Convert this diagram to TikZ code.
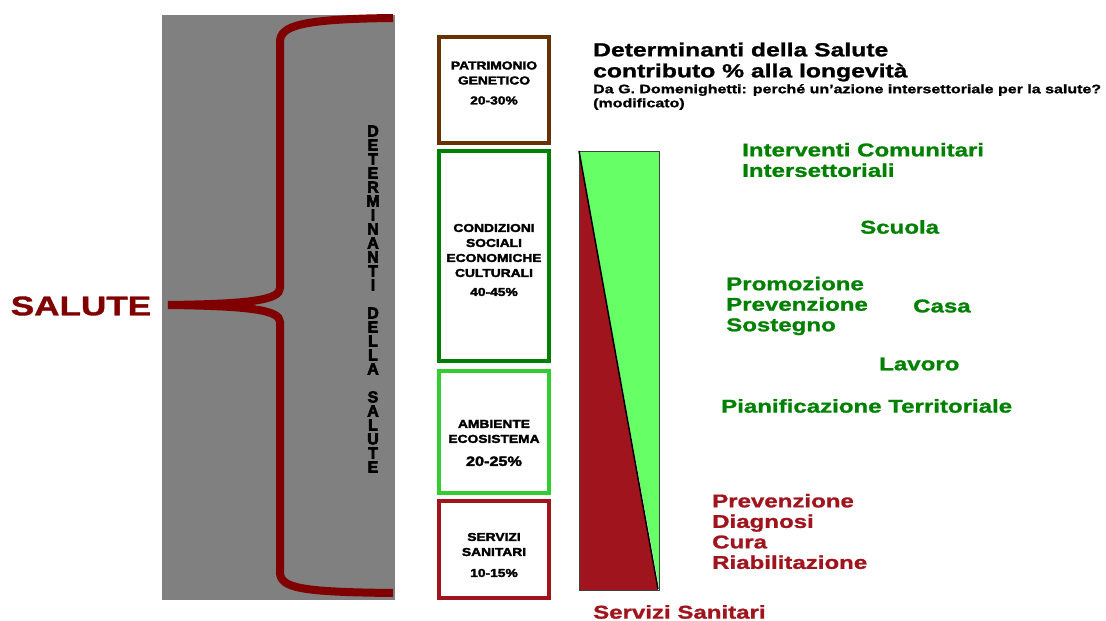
\documentclass[tikz,border=0pt]{standalone}
\usepackage{fontspec}
\setmainfont{Liberation Sans}
\newfontfamily\heavy{Liberation Sans}[FakeStretch=1.3,BoldFeatures={FakeBold=1.2}]
\newfontfamily\boxfont{Liberation Sans}[FakeStretch=1.2,BoldFeatures={FakeBold=2.5}]
\newfontfamily\narrowfont{Liberation Sans}[FakeStretch=1.0,BoldFeatures={FakeBold=3.5}]
\usetikzlibrary{calc,positioning}
\definecolor{bordeaux}{HTML}{800000}
\definecolor{grigio}{HTML}{808080}
\definecolor{marrone}{HTML}{663300}
\definecolor{verdescuro}{HTML}{008000}
\definecolor{verdechiaro}{HTML}{33CC33}
\definecolor{rosso}{HTML}{A0141E}
\definecolor{verdetri}{HTML}{66FF66}
\tikzset{
  box/.style={draw=#1, line width=4pt, fill=white, minimum width=110pt},
  boxtxt/.style={align=center, inner sep=0pt, font=\boxfont\bfseries\fontsize{11.5}{15}\selectfont},
  vlett/.style={inner sep=0pt, font=\narrowfont\bfseries\fontsize{16}{16}\selectfont},
  voce/.style={anchor=west, inner sep=0pt, align=left, text=#1,
    font=\heavy\bfseries\fontsize{18.5}{20.5}\selectfont},
}

\begin{document}
\begin{tikzpicture}[x=1pt,y=-1pt]
	\useasboundingbox (0,0) rectangle (1106,621);
	\fill[grigio] (162,15) rectangle (395,600);
	
	% graffa
	\draw[bordeaux,line width=8pt] (393,18) .. controls (300,19) and (280,26) .. (280,42)
	-- (280,288) .. controls (280,300) and (250,304) .. (168,305)
	.. controls (250,306) and (280,310) .. (280,322)
	-- (280,572) .. controls (280,588) and (300,592) .. (393,593);
	\node[inner sep=0pt,text=bordeaux,font=\heavy\bfseries\fontsize{27}{27}\selectfont] (salute) at (81,306) {SALUTE};
	
	\foreach \l [count=\i] in {D,E,T,E,R,M,I,N,A,N,T,I,{},D,E,L,L,A,{},S,A,L,U,T,E}
	\node[vlett] (v\i) at (373,{117+14*\i}) {\l};
	
	% riquadri
	\node[box=marrone, minimum height=106pt] (pat) at (494,90) {};
	\node[box=verdescuro, minimum height=210pt] (cond) at (494,256) {};
	\node[box=verdechiaro, minimum height=122pt] (amb) at (494,432) {};
	\node[box=rosso, minimum height=97pt] (serv) at (494,549.5) {};
	\node[boxtxt] (pattxt) at (494,83) {PATRIMONIO\\GENETICO\\[5pt]20-30\%};
	\node[boxtxt] (condtxt) at (494,260) {CONDIZIONI\\SOCIALI\\ECONOMICHE\\CULTURALI\\[4pt]40-45\%};
	\node[boxtxt] (ambtxt) at (494,443) {AMBIENTE\\ECOSISTEMA\\[8pt]{\fontsize{13.5}{15}\selectfont 20-25\%}};
	\node[boxtxt] (servtxt) at (494,555) {SERVIZI\\SANITARI\\[6pt]10-15\%};
	
	% triangoli
	\fill[rosso] (579,151) -- (579,590) -- (658,590) -- cycle;
	\fill[verdetri] (579,151) -- (659,151) -- (659,587) -- cycle;
	\draw[black!75,line width=1pt] (579,151) rectangle (659,590);
	\draw[black,line width=1.5pt] (579,151) -- (658,589);
	
	% testi
	\node[voce=black, font=\heavy\bfseries\fontsize{19}{21}\selectfont] (titolo) at (593,62)
	{Determinanti della Salute\\contributo \% alla longevità};
	\node[voce=black, font=\heavy\bfseries\fontsize{12.3}{14}\selectfont] (fonte) at (593,97)
	{Da G. Domenighetti: perché un’azione intersettoriale per la salute?\\(modificato)};
	\node[voce=verdescuro] (interv) at (742,160) {Interventi Comunitari\\Intersettoriali};
	\node[voce=verdescuro] (scuola) at (860,227) {Scuola};
	\node[voce=verdescuro] (prom) at (726,306) {Promozione\\Prevenzione\\Sostegno};
	\node[voce=verdescuro] (casa) at (913,306) {Casa};
	\node[voce=verdescuro] (lavoro) at (879,364) {Lavoro};
	\node[voce=verdescuro] (pian) at (721,406) {Pianificazione Territoriale};
	\node[voce=rosso] (cura) at (712,531.5) {Prevenzione\\Diagnosi\\Cura\\Riabilitazione};
	\node[voce=rosso] (servizi) at (593,612) {Servizi Sanitari};
\end{tikzpicture}
\end{document}
